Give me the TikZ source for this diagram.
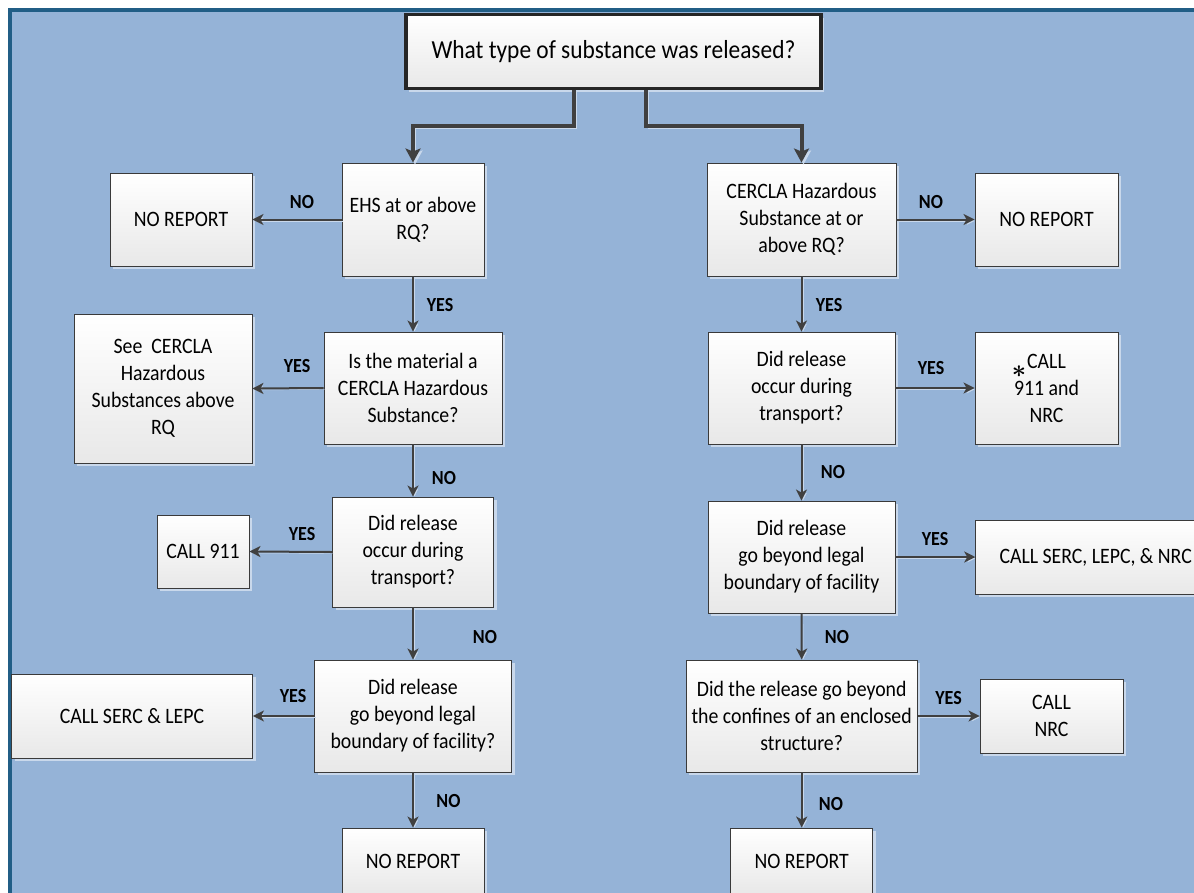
\documentclass[tikz,border=0pt]{standalone}
\usepackage{fontspec}
\setmainfont[FakeStretch=0.9]{Carlito}
\usetikzlibrary{arrows.meta,shadows,calc}
\definecolor{panel}{HTML}{95B3D7}
\definecolor{panelline}{HTML}{215E86}
\definecolor{shade}{HTML}{C9D8EB}
\definecolor{ink}{HTML}{404040}
\definecolor{boxline}{HTML}{3A3A3A}
\definecolor{boxbottom}{HTML}{E8E8E8}
\begin{document}
\begin{tikzpicture}[x=1pt,y=-1pt,
  box/.style={draw=boxline, line width=0.9pt, top color=white, bottom color=boxbottom,
    align=center, inner sep=2pt, font=\fontsize{22}{27}\selectfont,
    drop shadow={shadow xshift=3pt, shadow yshift=-3pt, fill=shade, opacity=1}},
  thinarrow/.style={draw=ink, line width=2pt, -{Stealth[length=11pt,width=11pt,inset=3pt]},
    preaction={draw=shade, transform canvas={xshift=1.5pt,yshift=-1.5pt}}},
  mainarrow/.style={draw=ink, line width=4pt, -{Stealth[length=14pt,width=15pt,inset=3pt]},
    preaction={draw=shade, transform canvas={xshift=2pt,yshift=-2pt}}},
  lbl/.style={font=\fontsize{20}{20}\selectfont\bfseries, text=black, inner sep=0pt}
]
\useasboundingbox (0,0) rectangle (1194,892);
\fill[white] (0,0) rectangle (1194,892);
\fill[panel] (8,8) rectangle (1210,910);
\draw[panelline, line width=3.5pt] (9.75,910) -- (9.75,9.75) -- (1210,9.75);

% top
\node[box, draw=black!85, line width=3.5pt, minimum width=415pt, minimum height=74pt,
  font=\fontsize{26}{30}\selectfont] (top) at (613.5,51.5) {What type of substance was released?};

% left column
\node[box, minimum width=142pt, minimum height=113pt] (ehs) at (413,219.5) {EHS at or above\\RQ?};
\node[box, minimum width=142pt, minimum height=93pt] (nr1) at (181,219.5) {NO REPORT};
\node[box, minimum width=178pt, minimum height=112pt] (mat) at (413,388) {Is the material a\\CERCLA Hazardous\\Substance?};
\node[box, minimum width=178pt, minimum height=149pt] (see) at (163,388.5) {See~~CERCLA\\Hazardous\\Substances above\\RQ};
\node[box, minimum width=161pt, minimum height=110pt] (trL) at (413,552) {Did release\\occur during\\transport?};
\node[box, minimum width=92pt, minimum height=73pt] (c911) at (203,551.5) {CALL 911};
\node[box, minimum width=197pt, minimum height=112pt] (bdL) at (413,716) {Did release\\go beyond legal\\boundary of facility?};
\node[box, minimum width=241pt, minimum height=84pt] (serc) at (132,716) {CALL SERC \& LEPC};
\node[box, minimum width=142pt, minimum height=66pt] (nr3) at (413,861) {NO REPORT};

% right column
\node[box, minimum width=189pt, minimum height=113pt] (cer) at (801.5,219.5) {CERCLA Hazardous\\Substance at or\\above RQ?};
\node[box, minimum width=143pt, minimum height=93pt] (nr2) at (1046.5,219.5) {NO REPORT};
\node[box, minimum width=187pt, minimum height=112pt] (trR) at (801.5,388) {Did release\\occur during\\transport?};
\node[box, minimum width=143pt, minimum height=112pt] (c911n) at (1046.5,388)
  {\llap{\raisebox{-9pt}{\fontsize{36}{36}\selectfont\boldmath$\ast$}\hspace{1pt}}CALL\\911 and\\NRC};
\node[box, minimum width=187pt, minimum height=112pt] (bdR) at (801.5,557) {Did release\\go beyond legal\\boundary of facility};
\node[box, minimum width=240pt, minimum height=74pt] (sercR) at (1095.7,557) {CALL SERC, LEPC, \& NRC};
\node[box, minimum width=231pt, minimum height=112pt] (encl) at (801.7,716) {Did the release go beyond\\the confines of an enclosed\\structure?};
\node[box, minimum width=143pt, minimum height=74pt] (nrc) at (1051.5,716) {CALL\\NRC};
\node[box, minimum width=142pt, minimum height=66pt] (nr4) at (801.7,861) {NO REPORT};

% main connectors
\draw[mainarrow] ([xshift=-39.5pt]top.south) -- ++(0,36) -| (ehs.north);
\draw[mainarrow] ([xshift=32.5pt]top.south) -- ++(0,36) -| (cer.north);

% left connectors
\draw[thinarrow] (ehs.west) -- (nr1.east);
\draw[thinarrow] (ehs.south) -- (mat.north);
\draw[thinarrow] (mat.west) -- (see.east);
\draw[thinarrow] (mat.south) -- (trL.north);
\draw[thinarrow] (trL.west) -- (c911.east);
\draw[thinarrow] (trL.south) -- (bdL.north);
\draw[thinarrow] (bdL.west) -- (serc.east);
\draw[thinarrow] (bdL.south) -- (nr3.north);

% right connectors
\draw[thinarrow] (cer.east) -- (nr2.west);
\draw[thinarrow] (cer.south) -- (trR.north);
\draw[thinarrow] (trR.east) -- (c911n.west);
\draw[thinarrow] (trR.south) -- (bdR.north);
\draw[thinarrow] (bdR.east) -- (sercR.west);
\draw[thinarrow] (bdR.south) -- (encl.north);
\draw[thinarrow] (encl.east) -- (nrc.west);
\draw[thinarrow] (encl.south) -- (nr4.north);

% labels
\node[lbl] (la) at (302,202) {NO};
\node[lbl] (lb) at (440,305) {YES};
\node[lbl] (lc) at (297,366) {YES};
\node[lbl] (ld) at (444,478) {NO};
\node[lbl] (le) at (302,534) {YES};
\node[lbl] (lf) at (485,637) {NO};
\node[lbl] (lg) at (293,696) {YES};
\node[lbl] (lh) at (448.5,801) {NO};
\node[lbl] (li) at (931,202) {NO};
\node[lbl] (lj) at (829,305) {YES};
\node[lbl] (lk) at (931,368) {YES};
\node[lbl] (ll) at (833,472) {NO};
\node[lbl] (lm) at (935,539) {YES};
\node[lbl] (ln) at (837,637) {NO};
\node[lbl] (lo) at (948.5,698) {YES};
\node[lbl] (lp) at (831,804) {NO};
\end{tikzpicture}
\end{document}
